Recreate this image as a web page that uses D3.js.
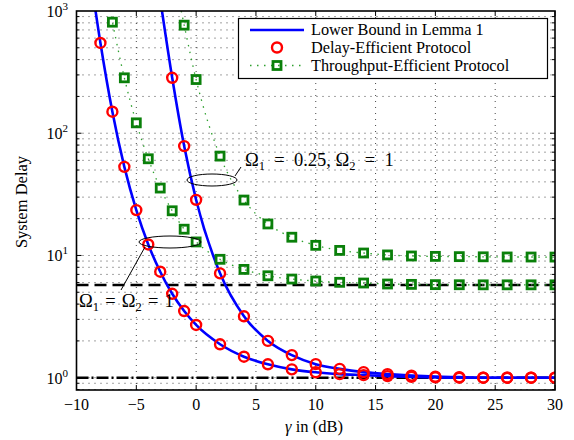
<!DOCTYPE html>
<html><head><meta charset="utf-8">
<script src="https://cdn.jsdelivr.net/npm/d3@7"></script>
<style>body{margin:0;background:#fff}svg{display:block}text{font-family:"Liberation Serif","DejaVu Serif",serif;}</style>
</head><body><svg id="c" width="574" height="440"></svg>
<script>
// x values (dB)
const gammaDense = [-10,-9,-8,-7,-6,-5,-4,-3,-2,-1,0,2,4,6,8,10,12,14,16,18,20,22,24,26,28,30];
// Case Ω1=Ω2=1
const boundA = [12000,2500,548,150,53.1,23.5,12.3,7.36,4.86,3.51,2.70,1.876,1.485,1.287,1.17,1.107,1.07,1.05,1.03,1.015,1.005,1.0,1.0,1.0,1.0,1.0];
const delayA = [null,null,548,150,53.1,23.5,12.3,7.36,4.86,3.51,2.70,1.876,1.485,1.287,1.17,1.107,1.07,1.05,1.03,1.015,1.005,1.0,1.0,1.0,1.0,1.0];
const thrA   = [20000,7000,2500,810,284,121.6,61.8,35.6,23.2,16.4,12.9,9.3,7.69,6.82,6.41,6.18,6.03,5.95,5.84,5.8,5.77,5.76,5.75,5.75,5.75,5.75];
const thrAshow = [null,null,null,810,284,121.6,61.8,35.6,23.2,16.4,12.9,9.3,7.69,6.82,6.41,6.18,6.03,5.95,5.84,5.8,5.77,5.76,5.75,5.75,5.75,5.75];
// Case Ω1=0.25, Ω2=1
const boundB = [1e6,600000,300000,150000,60000,20000,6000,1250,284,78.5,28.5,7.14,3.18,2.0,1.53,1.29,1.18,1.11,1.07,1.04,1.02,1.01,1.0,1.0,1.0,1.0];
const delayB = [null,null,null,null,null,null,null,null,284,78.5,28.5,7.14,3.18,2.0,1.53,1.29,1.18,1.11,1.07,1.04,1.02,1.01,1.0,1.0,1.0,1.0];
const thrB   = [null,null,null,null,null,null,null,7000,2400,766,275,65,28.4,18.1,14.1,12.1,11.0,10.47,10.1,9.9,9.83,9.78,9.75,9.72,9.71,9.7];
const thrBshow = [null,null,null,null,null,null,null,null,null,766,275,65,28.4,18.1,14.1,12.1,11.0,10.47,10.1,9.9,9.83,9.78,9.75,9.72,9.71,9.7];
// asymptotes
const asymUpper = 5.73;
const asymLower = 1.0;
const xTicks = [-10,-5,0,5,10,15,20,25,30];
const yTicks = [1,10,100,1000];
const legendLabels = ["Lower Bound in Lemma 1","Delay-Efficient Protocol","Throughput-Efficient Protocol"];

const svg = d3.select("#c");
const L=76.5, R=555, T=11, B=390;
const x = d3.scaleLinear().domain([-10,30]).range([L,R]);
const y = d3.scaleLog().domain([0.793,1000]).range([B,T]);

svg.append("defs").append("clipPath").attr("id","clip")
  .append("rect").attr("x",L).attr("y",T).attr("width",R-L).attr("height",B-T);

// grid
const minorY = [];
for (const d of [0.1,1,10,100]) for (let k=1;k<=9;k++){ const v=d*k; if(v>=0.8 && v<=1000) minorY.push(v);}
const g = svg.append("g");
g.selectAll(".gy").data(minorY).enter().append("line")
  .attr("x1",L).attr("x2",R).attr("y1",d=>y(d)).attr("y2",d=>y(d))
  .attr("stroke","#000").attr("stroke-width",0.9).attr("stroke-dasharray","1,5").attr("opacity",0.8);
g.selectAll(".gx").data(xTicks.slice(1,-1)).enter().append("line")
  .attr("x1",d=>x(d)).attr("x2",d=>x(d)).attr("y1",T).attr("y2",B)
  .attr("stroke","#000").attr("stroke-width",0.9).attr("stroke-dasharray","1,5").attr("opacity",0.8);

// ticks
const tk = svg.append("g").attr("stroke","#000").attr("stroke-width",1);
xTicks.forEach(v=>{
  tk.append("line").attr("x1",x(v)).attr("x2",x(v)).attr("y1",B).attr("y2",B-5);
  tk.append("line").attr("x1",x(v)).attr("x2",x(v)).attr("y1",T).attr("y2",T+5);
});
minorY.forEach(v=>{
  const len = yTicks.includes(v)?5:3;
  tk.append("line").attr("x1",L).attr("x2",L+len).attr("y1",y(v)).attr("y2",y(v));
  tk.append("line").attr("x1",R).attr("x2",R-len).attr("y1",y(v)).attr("y2",y(v));
});

const plot = svg.append("g").attr("clip-path","url(#clip)");

// asymptotes
plot.append("line").attr("x1",L).attr("x2",R).attr("y1",y(asymUpper)).attr("y2",y(asymUpper))
  .attr("stroke","#000").attr("stroke-width",2.6).attr("stroke-dasharray","12,6");
plot.append("line").attr("x1",L).attr("x2",R).attr("y1",y(asymLower)).attr("y2",y(asymLower))
  .attr("stroke","#000").attr("stroke-width",2.6).attr("stroke-dasharray","12,3,2,3");

const line = d3.line().defined(d=>d[1]!=null).x(d=>x(d[0])).y(d=>y(d[1])).curve(d3.curveMonotoneX);
const pairs = arr => gammaDense.map((g,i)=>[g,arr[i]]);

// throughput-efficient dotted lines
[thrA,thrB].forEach(arr=>{
  plot.append("path").attr("d",line(pairs(arr))).attr("fill","none")
    .attr("stroke","#2ea02e").attr("stroke-width",1.3).attr("stroke-dasharray","1.5,5.5");
});
// lower bound lines
[boundA,boundB].forEach(arr=>{
  plot.append("path").attr("d",line(pairs(arr))).attr("fill","none")
    .attr("stroke","#0000ff").attr("stroke-width",2.6);
});
// green squares
[thrAshow,thrBshow].forEach(arr=>{
  plot.selectAll(null).data(pairs(arr).filter(d=>d[1]!=null)).enter().append("rect")
    .attr("x",d=>x(d[0])-4).attr("y",d=>y(d[1])-4).attr("width",8).attr("height",8)
    .attr("fill","none").attr("stroke","#0a800a").attr("stroke-width",2.8);
});
// red circles
[delayA,delayB].forEach(arr=>{
  plot.selectAll(null).data(pairs(arr).filter(d=>d[1]!=null)).enter().append("circle")
    .attr("cx",d=>x(d[0])).attr("cy",d=>y(d[1])).attr("r",5)
    .attr("fill","none").attr("stroke","#ff0000").attr("stroke-width",2.4);
});

// frame
svg.append("rect").attr("x",L).attr("y",T).attr("width",R-L).attr("height",B-T)
  .attr("fill","none").attr("stroke","#000").attr("stroke-width",1.6);

// tick labels
const lab = svg.append("g").attr("font-size",16).attr("fill","#000");
xTicks.forEach(v=>{
  lab.append("text").attr("x",x(v)).attr("y",410).attr("text-anchor","middle")
    .text(v<0?"\u2212"+Math.abs(v):String(v));
});
yTicks.forEach(v=>{
  const t = lab.append("text").attr("x",68).attr("y",y(v)+6).attr("text-anchor","end");
  t.append("tspan").text("10");
  t.append("tspan").attr("dy",-7).attr("font-size",11).text(String(Math.round(Math.log10(v))));
});

// axis titles
const xl = svg.append("text").attr("x",314).attr("y",432).attr("text-anchor","middle").attr("font-size",16.5);
xl.append("tspan").attr("font-style","italic").text("\u03b3");
xl.append("tspan").text(" in (dB)");
svg.append("text").attr("transform","translate(27,202) rotate(-90)").attr("text-anchor","middle")
  .attr("font-size",16.5).text("System Delay");

// legend
const lg = svg.append("g");
lg.append("rect").attr("x",238.5).attr("y",18.5).attr("width",309).attr("height",60)
  .attr("fill","#fff").attr("stroke","#000").attr("stroke-width",1.2);
const ly = [30,47.5,65.5];
lg.append("line").attr("x1",250).attr("x2",304).attr("y1",ly[0]).attr("y2",ly[0]).attr("stroke","#0000ff").attr("stroke-width",2.6);
lg.append("circle").attr("cx",277).attr("cy",ly[1]).attr("r",5).attr("fill","none").attr("stroke","#ff0000").attr("stroke-width",2.4);
lg.append("line").attr("x1",250).attr("x2",304).attr("y1",ly[2]).attr("y2",ly[2]).attr("stroke","#2ea02e").attr("stroke-width",1.3).attr("stroke-dasharray","1.5,5.5");
lg.append("rect").attr("x",273).attr("y",ly[2]-4).attr("width",8).attr("height",8).attr("fill","none").attr("stroke","#0a800a").attr("stroke-width",2.8);
legendLabels.forEach((s,i)=>{
  lg.append("text").attr("x",311).attr("y",ly[i]+5).attr("font-size",16.3).text(s);
});

// annotations
const ann = svg.append("g");
ann.append("ellipse").attr("cx",212).attr("cy",180).attr("rx",25).attr("ry",6)
  .attr("fill","none").attr("stroke","#000").attr("stroke-width",1);
ann.append("line").attr("x1",235).attr("y1",176).attr("x2",241).attr("y2",167).attr("stroke","#000").attr("stroke-width",1);
ann.append("ellipse").attr("cx",170).attr("cy",242).attr("rx",31).attr("ry",6)
  .attr("fill","none").attr("stroke","#000").attr("stroke-width",1);
ann.append("line").attr("x1",145).attr("y1",247).attr("x2",121).attr("y2",290).attr("stroke","#000").attr("stroke-width",1);

function omegaText(xp, yp, parts){
  const t = ann.append("text").attr("x",xp).attr("y",yp).attr("font-size",18.5).attr("xml:space","preserve");
  parts.forEach(p=>{
    if (p.sub) t.append("tspan").attr("dy",4).attr("font-size",12.5).text(p.sub);
    else t.append("tspan").attr("dy",p.after? -4:0).text(p.t);
  });
  return t;
}
omegaText(245,166,[{t:"\u03a9"},{sub:"1"},{t:"\u2002=\u20020.25, \u03a9",after:true},{sub:"2"},{t:"\u2002=\u20021",after:true}]);
omegaText(79,307,[{t:"\u03a9"},{sub:"1"},{t:"\u2004=\u2004\u03a9",after:true},{sub:"2"},{t:"\u2004=\u20041",after:true}]);
</script></body></html>
